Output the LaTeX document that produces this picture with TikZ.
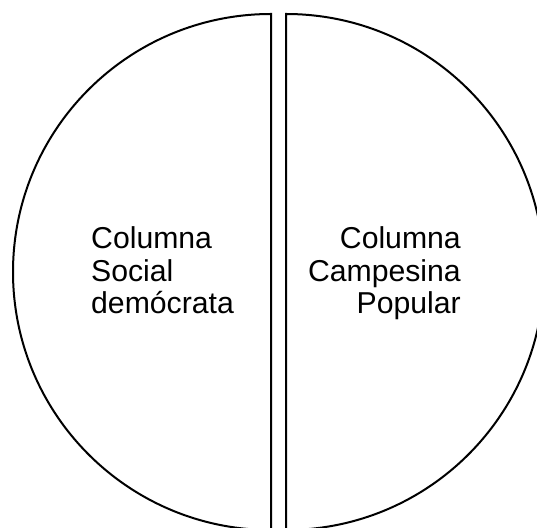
\documentclass[tikz,border=0pt]{standalone}
\usepackage{fontspec}
\setmainfont{Liberation Sans}
\begin{document}
\begin{tikzpicture}[x=1pt,y=1pt,
  half/.style={draw=black,line width=2pt,line join=miter},
  lbl/.style={inner sep=0pt,font=\fontsize{30.2}{32.5}\selectfont}]
\useasboundingbox (0,0) rectangle (537,527);
\clip (0,0) rectangle (537,527);
\coordinate (ltop) at (271,513);
\coordinate (rtop) at (286,513);
\draw[half] (ltop) arc[start angle=90,end angle=270,radius=258] -- cycle;
\draw[half] (rtop) arc[start angle=90,end angle=-90,radius=258] -- cycle;
\node[lbl,anchor=base west,align=left] (left) at (91,213) {Columna\\Social\\demócrata};
\node[lbl,anchor=base east,align=right] (right) at (461,213) {Columna\\Campesina\\Popular};
\end{tikzpicture}
\end{document}
